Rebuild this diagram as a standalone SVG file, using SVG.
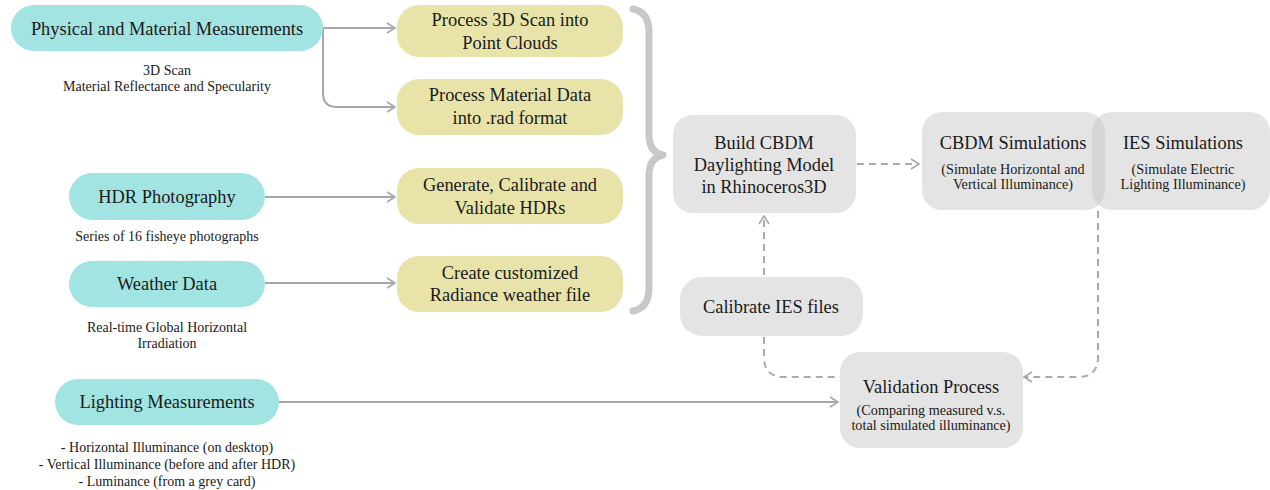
<svg xmlns="http://www.w3.org/2000/svg" width="1270" height="490" viewBox="0 0 1270 490">
<defs>
<style>
.t{font-family:"Liberation Serif","Times New Roman",serif;fill:#1a1a1a;text-anchor:middle}
.m{font-size:18.4px}
.s{font-size:14px}
.ss{font-size:14.2px}
.teal{fill:#a2e4e1}
.yel{fill:#e8e4a9}
.gry{fill:#c4c4c4;fill-opacity:0.45}
.ln{fill:none;stroke:#a8a8a8;stroke-width:2}
.dl{fill:none;stroke:#ababab;stroke-width:2;stroke-dasharray:7 5}
</style>
<marker id="ah" viewBox="0 0 12 12" refX="10" refY="6" markerWidth="12" markerHeight="12" markerUnits="userSpaceOnUse" orient="auto">
<path d="M2,1 L10,6 L2,11" fill="none" stroke="#a8a8a8" stroke-width="1.6"/>
</marker>
</defs>
<rect width="1270" height="490" fill="#ffffff"/>

<g id="connectors">
<path class="ln" d="M323,28 H395" marker-end="url(#ah)"/>
<path class="ln" d="M323,28 V93 Q323,107 337,107 H395" marker-end="url(#ah)"/>
<path class="ln" d="M265,197 H395" marker-end="url(#ah)"/>
<path class="ln" d="M265,283 H395" marker-end="url(#ah)"/>
<path class="ln" d="M279,402 H838" marker-end="url(#ah)"/>
<path class="dl" d="M857,164 H919" marker-end="url(#ah)"/>
<path class="dl" d="M764,275 V216" marker-end="url(#ah)"/>
<path class="dl" d="M764,337 V357 Q764,377 784,377 H840"/>
<path class="dl" d="M1098,211 V357 Q1098,377 1078,377 H1024" marker-end="url(#ah)"/>
<path d="M633,9 Q649,12 649,32 V135 Q649,152 663,155 Q649,158 649,175 V288 Q649,308 633,311" fill="none" stroke="#c8c8c8" stroke-width="7" stroke-linecap="round" stroke-linejoin="round"/>
</g>

<g id="n-physical">
<rect class="teal" x="11" y="5" width="312" height="46" rx="23"/>
<text class="t m" x="167" y="35">Physical and Material Measurements</text>
<text class="t s" x="167" y="75">3D Scan</text>
<text class="t s" x="167" y="91">Material Reflectance and Specularity</text>
</g>
<g id="n-hdr">
<rect class="teal" x="69" y="173" width="196" height="47" rx="23.5"/>
<text class="t m" x="167" y="203">HDR Photography</text>
<text class="t s" x="167" y="241">Series of 16 fisheye photographs</text>
</g>
<g id="n-weather">
<rect class="teal" x="69" y="261" width="196" height="46" rx="23"/>
<text class="t m" x="167" y="290">Weather Data</text>
<text class="t s" x="167" y="332">Real-time Global Horizontal</text>
<text class="t s" x="167" y="348">Irradiation</text>
</g>
<g id="n-lighting">
<rect class="teal" x="55" y="379" width="224" height="46" rx="23"/>
<text class="t m" x="167" y="408">Lighting Measurements</text>
<text class="t s" x="167" y="452">- Horizontal Illuminance (on desktop)</text>
<text class="t s" x="167" y="469">- Vertical Illuminance (before and after HDR)</text>
<text class="t s" x="167" y="486">- Luminance (from a grey card)</text>
</g>

<g id="n-scan">
<rect class="yel" x="397" y="5" width="226" height="52" rx="22"/>
<text class="t m" x="510" y="26">Process 3D Scan into</text>
<text class="t m" x="510" y="49">Point Clouds</text>
</g>
<g id="n-material">
<rect class="yel" x="397" y="79" width="226" height="56" rx="22"/>
<text class="t m" x="510" y="101">Process Material Data</text>
<text class="t m" x="510" y="124">into .rad format</text>
</g>
<g id="n-hdrgen">
<rect class="yel" x="397" y="168" width="226" height="56" rx="22"/>
<text class="t m" x="510" y="191">Generate, Calibrate and</text>
<text class="t m" x="510" y="214">Validate HDRs</text>
</g>
<g id="n-weatherfile">
<rect class="yel" x="397" y="256" width="226" height="56" rx="22"/>
<text class="t m" x="510" y="279">Create customized</text>
<text class="t m" x="510" y="301">Radiance weather file</text>
</g>

<g id="n-build">
<rect class="gry" x="673" y="115" width="183" height="98" rx="20"/>
<text class="t m" x="764" y="149">Build CBDM</text>
<text class="t m" x="764" y="171">Daylighting Model</text>
<text class="t m" x="764" y="193">in Rhinoceros3D</text>
</g>
<g id="n-cbdm">
<rect class="gry" x="922" y="112" width="183" height="98" rx="20"/>
<text class="t m" x="1013" y="149">CBDM Simulations</text>
<text class="t ss" x="1013" y="174">(Simulate Horizontal and</text>
<text class="t ss" x="1013" y="189">Vertical Illuminance)</text>
</g>
<g id="n-ies">
<rect class="gry" x="1092" y="112" width="178" height="98" rx="20"/>
<text class="t m" x="1183" y="149">IES Simulations</text>
<text class="t ss" x="1183" y="174">(Simulate Electric</text>
<text class="t ss" x="1183" y="189">Lighting Illuminance)</text>
</g>
<g id="n-calibrate">
<rect class="gry" x="680" y="277" width="183" height="59" rx="22"/>
<text class="t m" x="771" y="313">Calibrate IES files</text>
</g>
<g id="n-validation">
<rect class="gry" x="840" y="352" width="183" height="96" rx="20"/>
<text class="t m" x="931" y="393">Validation Process</text>
<text class="t ss" x="931" y="415">(Comparing measured v.s.</text>
<text class="t ss" x="931" y="430">total simulated illuminance)</text>
</g>
</svg>
